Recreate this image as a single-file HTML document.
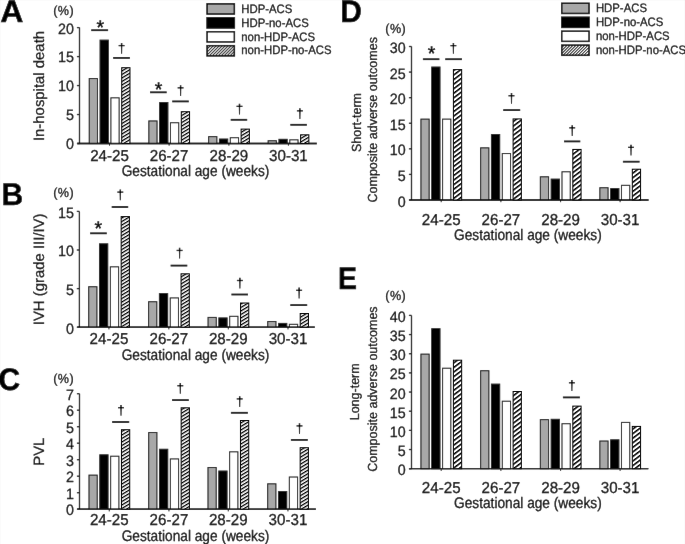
<!DOCTYPE html>
<html><head><meta charset="utf-8"><style>
html,body{margin:0;padding:0;background:#fff;}
svg{display:block;filter:grayscale(1);}
text{font-family:"Liberation Sans", sans-serif;fill:#000;stroke:#000;stroke-width:0.25px;text-rendering:geometricPrecision;}
</style></head><body>
<svg width="685" height="544" viewBox="0 0 685 544">
<rect width="685" height="544" fill="#fff"/>
<defs>
<filter id="soft" x="0" y="0" width="1" height="1" filterUnits="objectBoundingBox"><feConvolveMatrix order="3" kernelMatrix="0.00163 0.03713 0.00163 0.03713 0.84497 0.03713 0.00163 0.03713 0.00163" divisor="1" edgeMode="duplicate" preserveAlpha="true"/></filter>
<pattern id="hatch" patternUnits="userSpaceOnUse" width="12" height="3.0" patternTransform="rotate(-31)">
<rect x="0" y="0" width="12" height="3.0" fill="#fff"/><rect x="0" y="0" width="12" height="1.3" fill="#000"/></pattern>
<pattern id="hatch2" patternUnits="userSpaceOnUse" width="12" height="3.65" patternTransform="rotate(-37)">
<rect x="0" y="0" width="12" height="3.65" fill="#fff"/><rect x="0" y="0" width="12" height="1.55" fill="#000"/></pattern>
<pattern id="lhatch" patternUnits="userSpaceOnUse" width="8" height="2.1" patternTransform="rotate(-45)">
<rect x="0" y="0" width="8" height="2.1" fill="#fff"/><rect x="0" y="0" width="8" height="0.95" fill="#000"/></pattern>
</defs>
<g filter="url(#soft)">
<rect width="685" height="544" fill="#fff"/>
<path d="M79.5 27.6V143.5M77.3 143.5H316.8" stroke="#111" stroke-width="1.3" fill="none"/>
<path d="M76.9 143.5H79.5" stroke="#111" stroke-width="1.3"/>
<text transform="translate(73.9 149.4) scale(1 1.05)" text-anchor="end" font-size="14.3">0</text>
<path d="M76.9 114.53H79.5" stroke="#111" stroke-width="1.3"/>
<text transform="translate(73.9 120.43) scale(1 1.05)" text-anchor="end" font-size="14.3">5</text>
<path d="M76.9 85.55H79.5" stroke="#111" stroke-width="1.3"/>
<text transform="translate(73.9 91.45) scale(1 1.05)" text-anchor="end" font-size="14.3">10</text>
<path d="M76.9 56.58H79.5" stroke="#111" stroke-width="1.3"/>
<text transform="translate(73.9 62.48) scale(1 1.05)" text-anchor="end" font-size="14.3">15</text>
<path d="M76.9 27.6H79.5" stroke="#111" stroke-width="1.3"/>
<text transform="translate(73.9 33.5) scale(1 1.05)" text-anchor="end" font-size="14.3">20</text>
<rect x="89.23" y="78.53" width="8.25" height="64.97" fill="#a8a8a8" stroke="#111" stroke-width="1.05"/>
<rect x="100.06" y="40.12" width="8.25" height="103.38" fill="#000" stroke="#111" stroke-width="1.05"/>
<rect x="110.89" y="97.83" width="8.25" height="45.68" fill="#fff" stroke="#111" stroke-width="1.05"/>
<path d="M109.5 143.5V145.7" stroke="#111" stroke-width="1"/>
<rect x="148.82" y="120.93" width="8.25" height="22.57" fill="#a8a8a8" stroke="#111" stroke-width="1.05"/>
<rect x="159.66" y="102.53" width="8.25" height="40.98" fill="#000" stroke="#111" stroke-width="1.05"/>
<rect x="170.48" y="122.73" width="8.25" height="20.77" fill="#fff" stroke="#111" stroke-width="1.05"/>
<path d="M169.1 143.5V145.7" stroke="#111" stroke-width="1"/>
<rect x="208.62" y="136.62" width="8.25" height="6.88" fill="#a8a8a8" stroke="#111" stroke-width="1.05"/>
<rect x="219.46" y="139.03" width="8.25" height="4.47" fill="#000" stroke="#111" stroke-width="1.05"/>
<rect x="230.28" y="137.72" width="8.25" height="5.78" fill="#fff" stroke="#111" stroke-width="1.05"/>
<path d="M228.9 143.5V145.7" stroke="#111" stroke-width="1"/>
<rect x="268.12" y="140.72" width="8.25" height="2.78" fill="#a8a8a8" stroke="#111" stroke-width="1.05"/>
<rect x="278.95" y="139.33" width="8.25" height="4.17" fill="#000" stroke="#111" stroke-width="1.05"/>
<rect x="289.78" y="139.83" width="8.25" height="3.67" fill="#fff" stroke="#111" stroke-width="1.05"/>
<path d="M288.4 143.5V145.7" stroke="#111" stroke-width="1"/>
<path d="M77.3 143.5H316.8" stroke="#111" stroke-width="1.3" fill="none"/>
<path d="M91.2 30.2H108.1" stroke="#000" stroke-width="1.8"/>
<text transform="translate(96.6 33.89)" font-size="19.5" style="stroke-width:0.45px">*</text>
<path d="M113.1 57.9H129.9" stroke="#000" stroke-width="1.8"/>
<path d="M120.85 42.9L122.35 42.9L122.1 53.7L121.1 53.7Z" fill="#000"/>
<path d="M118.6 45.6H124.6" stroke="#000" stroke-width="1.3"/>
<path d="M150 92.3H166.7" stroke="#000" stroke-width="1.8"/>
<text transform="translate(154.8 95.69)" font-size="19.5" style="stroke-width:0.45px">*</text>
<path d="M172.2 101.4H188.8" stroke="#000" stroke-width="1.8"/>
<path d="M179.85 85.15L181.35 85.15L181.1 95.95L180.1 95.95Z" fill="#000"/>
<path d="M177.6 87.85H183.6" stroke="#000" stroke-width="1.3"/>
<path d="M230.7 119.8H247.2" stroke="#000" stroke-width="1.8"/>
<path d="M238.75 103.65L240.25 103.65L240 114.45L239 114.45Z" fill="#000"/>
<path d="M236.5 106.35H242.5" stroke="#000" stroke-width="1.3"/>
<path d="M290.3 124.8H306.9" stroke="#000" stroke-width="1.8"/>
<path d="M299.15 108.15L300.65 108.15L300.4 118.95L299.4 118.95Z" fill="#000"/>
<path d="M296.9 110.85H302.9" stroke="#000" stroke-width="1.3"/>
<text transform="translate(109.5 160.5) scale(1 1.05)" text-anchor="middle" font-size="15.15">24-25</text>
<text transform="translate(169.1 160.5) scale(1 1.05)" text-anchor="middle" font-size="15.15">26-27</text>
<text transform="translate(228.9 160.5) scale(1 1.05)" text-anchor="middle" font-size="15.15">28-29</text>
<text transform="translate(288.4 160.5) scale(1 1.05)" text-anchor="middle" font-size="15.15">30-31</text>
<text transform="translate(195.5 175.7) scale(1 1.12)" text-anchor="middle" font-size="13.7">Gestational age (weeks)</text>
<text transform="translate(44.2 86) rotate(-90)" text-anchor="middle" font-size="14.9">In-hospital death</text>
<text transform="translate(74 14.6) scale(1 1.04)" text-anchor="end" font-size="12.6" letter-spacing="0.4">(%)</text>
<text transform="translate(0.2 21.9) scale(1.07 1.04)" font-weight="bold" font-size="30" style="stroke-width:0.45px">A</text>
<path d="M79.4 211.4V327.2M77.3 327.2H314.8" stroke="#111" stroke-width="1.3" fill="none"/>
<path d="M76.8 327.2H79.4" stroke="#111" stroke-width="1.3"/>
<text transform="translate(73.9 333.6) scale(1 1.05)" text-anchor="end" font-size="14.3">0</text>
<path d="M76.8 288.6H79.4" stroke="#111" stroke-width="1.3"/>
<text transform="translate(73.9 295) scale(1 1.05)" text-anchor="end" font-size="14.3">5</text>
<path d="M76.8 250H79.4" stroke="#111" stroke-width="1.3"/>
<text transform="translate(73.9 256.4) scale(1 1.05)" text-anchor="end" font-size="14.3">10</text>
<path d="M76.8 211.4H79.4" stroke="#111" stroke-width="1.3"/>
<text transform="translate(73.9 217.8) scale(1 1.05)" text-anchor="end" font-size="14.3">15</text>
<rect x="88.68" y="286.72" width="8.25" height="40.48" fill="#a8a8a8" stroke="#111" stroke-width="1.05"/>
<rect x="99.51" y="243.83" width="8.25" height="83.37" fill="#000" stroke="#111" stroke-width="1.05"/>
<rect x="110.34" y="266.82" width="8.25" height="60.37" fill="#fff" stroke="#111" stroke-width="1.05"/>
<path d="M108.95 327.2V329.4" stroke="#111" stroke-width="1"/>
<rect x="148.57" y="301.72" width="8.25" height="25.48" fill="#a8a8a8" stroke="#111" stroke-width="1.05"/>
<rect x="159.41" y="293.62" width="8.25" height="33.57" fill="#000" stroke="#111" stroke-width="1.05"/>
<rect x="170.23" y="297.92" width="8.25" height="29.28" fill="#fff" stroke="#111" stroke-width="1.05"/>
<path d="M168.85 327.2V329.4" stroke="#111" stroke-width="1"/>
<rect x="208.03" y="317.42" width="8.25" height="9.78" fill="#a8a8a8" stroke="#111" stroke-width="1.05"/>
<rect x="218.86" y="317.92" width="8.25" height="9.28" fill="#000" stroke="#111" stroke-width="1.05"/>
<rect x="229.69" y="316.32" width="8.25" height="10.87" fill="#fff" stroke="#111" stroke-width="1.05"/>
<path d="M228.3 327.2V329.4" stroke="#111" stroke-width="1"/>
<rect x="267.72" y="321.52" width="8.25" height="5.67" fill="#a8a8a8" stroke="#111" stroke-width="1.05"/>
<rect x="278.55" y="323.42" width="8.25" height="3.78" fill="#000" stroke="#111" stroke-width="1.05"/>
<rect x="289.38" y="324.32" width="8.25" height="2.87" fill="#fff" stroke="#111" stroke-width="1.05"/>
<path d="M288 327.2V329.4" stroke="#111" stroke-width="1"/>
<path d="M77.3 327.2H314.8" stroke="#111" stroke-width="1.3" fill="none"/>
<path d="M90.1 233.3H106.8" stroke="#000" stroke-width="1.8"/>
<text transform="translate(94.55 234.99)" font-size="19.5" style="stroke-width:0.45px">*</text>
<path d="M111.7 207H128.2" stroke="#000" stroke-width="1.8"/>
<path d="M119.55 189.4L121.05 189.4L120.8 200.2L119.8 200.2Z" fill="#000"/>
<path d="M117.3 192.1H123.3" stroke="#000" stroke-width="1.3"/>
<path d="M170.6 265.6H187.3" stroke="#000" stroke-width="1.8"/>
<path d="M178.85 247.75L180.35 247.75L180.1 258.55L179.1 258.55Z" fill="#000"/>
<path d="M176.6 250.45H182.6" stroke="#000" stroke-width="1.3"/>
<path d="M231.4 294.5H248" stroke="#000" stroke-width="1.8"/>
<path d="M239.15 277.8L240.65 277.8L240.4 288.6L239.4 288.6Z" fill="#000"/>
<path d="M236.9 280.5H242.9" stroke="#000" stroke-width="1.3"/>
<path d="M290.3 305.1H307.2" stroke="#000" stroke-width="1.8"/>
<path d="M298.35 287.6L299.85 287.6L299.6 298.4L298.6 298.4Z" fill="#000"/>
<path d="M296.1 290.3H302.1" stroke="#000" stroke-width="1.3"/>
<text transform="translate(108.95 344.2) scale(1 1.05)" text-anchor="middle" font-size="15.15">24-25</text>
<text transform="translate(168.85 344.2) scale(1 1.05)" text-anchor="middle" font-size="15.15">26-27</text>
<text transform="translate(228.3 344.2) scale(1 1.05)" text-anchor="middle" font-size="15.15">28-29</text>
<text transform="translate(288 344.2) scale(1 1.05)" text-anchor="middle" font-size="15.15">30-31</text>
<text transform="translate(195.5 359.6) scale(1 1.12)" text-anchor="middle" font-size="13.7">Gestational age (weeks)</text>
<text transform="translate(44.2 269.4) rotate(-90)" text-anchor="middle" font-size="14.9">IVH (grade III/IV)</text>
<text transform="translate(74 196.6) scale(1 1.04)" text-anchor="end" font-size="12.6" letter-spacing="0.4">(%)</text>
<text transform="translate(1.4 204.7) scale(1 1.04)" font-weight="bold" font-size="30" style="stroke-width:0.45px">B</text>
<path d="M79.5 393.7V509.2M77.2 509.2H315.9" stroke="#111" stroke-width="1.3" fill="none"/>
<path d="M76.9 509.2H79.5" stroke="#111" stroke-width="1.3"/>
<text transform="translate(73.9 515.3) scale(1 1.05)" text-anchor="end" font-size="14.3">0</text>
<path d="M76.9 492.7H79.5" stroke="#111" stroke-width="1.3"/>
<text transform="translate(73.9 498.8) scale(1 1.05)" text-anchor="end" font-size="14.3">1</text>
<path d="M76.9 476.2H79.5" stroke="#111" stroke-width="1.3"/>
<text transform="translate(73.9 482.3) scale(1 1.05)" text-anchor="end" font-size="14.3">2</text>
<path d="M76.9 459.7H79.5" stroke="#111" stroke-width="1.3"/>
<text transform="translate(73.9 465.8) scale(1 1.05)" text-anchor="end" font-size="14.3">3</text>
<path d="M76.9 443.2H79.5" stroke="#111" stroke-width="1.3"/>
<text transform="translate(73.9 449.3) scale(1 1.05)" text-anchor="end" font-size="14.3">4</text>
<path d="M76.9 426.7H79.5" stroke="#111" stroke-width="1.3"/>
<text transform="translate(73.9 432.8) scale(1 1.05)" text-anchor="end" font-size="14.3">5</text>
<path d="M76.9 410.2H79.5" stroke="#111" stroke-width="1.3"/>
<text transform="translate(73.9 416.3) scale(1 1.05)" text-anchor="end" font-size="14.3">6</text>
<path d="M76.9 393.7H79.5" stroke="#111" stroke-width="1.3"/>
<text transform="translate(73.9 399.8) scale(1 1.05)" text-anchor="end" font-size="14.3">7</text>
<rect x="88.98" y="475.12" width="8.25" height="34.07" fill="#a8a8a8" stroke="#111" stroke-width="1.05"/>
<rect x="99.81" y="454.82" width="8.25" height="54.37" fill="#000" stroke="#111" stroke-width="1.05"/>
<rect x="110.64" y="456.22" width="8.25" height="52.98" fill="#fff" stroke="#111" stroke-width="1.05"/>
<path d="M109.25 509.2V511.4" stroke="#111" stroke-width="1"/>
<rect x="148.67" y="432.52" width="8.25" height="76.67" fill="#a8a8a8" stroke="#111" stroke-width="1.05"/>
<rect x="159.5" y="449.27" width="8.25" height="59.92" fill="#000" stroke="#111" stroke-width="1.05"/>
<rect x="170.33" y="458.92" width="8.25" height="50.28" fill="#fff" stroke="#111" stroke-width="1.05"/>
<path d="M168.95 509.2V511.4" stroke="#111" stroke-width="1"/>
<rect x="207.97" y="467.52" width="8.25" height="41.67" fill="#a8a8a8" stroke="#111" stroke-width="1.05"/>
<rect x="218.81" y="471.02" width="8.25" height="38.17" fill="#000" stroke="#111" stroke-width="1.05"/>
<rect x="229.63" y="451.82" width="8.25" height="57.37" fill="#fff" stroke="#111" stroke-width="1.05"/>
<path d="M228.25 509.2V511.4" stroke="#111" stroke-width="1"/>
<rect x="267.67" y="483.82" width="8.25" height="25.37" fill="#a8a8a8" stroke="#111" stroke-width="1.05"/>
<rect x="278.5" y="491.52" width="8.25" height="17.67" fill="#000" stroke="#111" stroke-width="1.05"/>
<rect x="289.33" y="477.02" width="8.25" height="32.17" fill="#fff" stroke="#111" stroke-width="1.05"/>
<path d="M287.95 509.2V511.4" stroke="#111" stroke-width="1"/>
<path d="M77.2 509.2H315.9" stroke="#111" stroke-width="1.3" fill="none"/>
<path d="M112.1 422H129.2" stroke="#000" stroke-width="1.8"/>
<path d="M120.25 405L121.75 405L121.5 415.8L120.5 415.8Z" fill="#000"/>
<path d="M118 407.7H124" stroke="#000" stroke-width="1.3"/>
<path d="M172 400.1H188.8" stroke="#000" stroke-width="1.8"/>
<path d="M179.55 383.05L181.05 383.05L180.8 393.85L179.8 393.85Z" fill="#000"/>
<path d="M177.3 385.75H183.3" stroke="#000" stroke-width="1.3"/>
<path d="M230.9 412.8H247.9" stroke="#000" stroke-width="1.8"/>
<path d="M238.95 396.2L240.45 396.2L240.2 407L239.2 407Z" fill="#000"/>
<path d="M236.7 398.9H242.7" stroke="#000" stroke-width="1.3"/>
<path d="M290.9 439.9H307.8" stroke="#000" stroke-width="1.8"/>
<path d="M298.75 423.2L300.25 423.2L300 434L299 434Z" fill="#000"/>
<path d="M296.5 425.9H302.5" stroke="#000" stroke-width="1.3"/>
<text transform="translate(109.25 525.2) scale(1 1.05)" text-anchor="middle" font-size="15.15">24-25</text>
<text transform="translate(168.95 525.2) scale(1 1.05)" text-anchor="middle" font-size="15.15">26-27</text>
<text transform="translate(228.25 525.2) scale(1 1.05)" text-anchor="middle" font-size="15.15">28-29</text>
<text transform="translate(287.95 525.2) scale(1 1.05)" text-anchor="middle" font-size="15.15">30-31</text>
<text transform="translate(195.5 540.5) scale(1 1.12)" text-anchor="middle" font-size="13.7">Gestational age (weeks)</text>
<text transform="translate(44.2 451.7) rotate(-90)" text-anchor="middle" font-size="14.9">PVL</text>
<text transform="translate(74 382.6) scale(1 1.04)" text-anchor="end" font-size="12.6" letter-spacing="0.4">(%)</text>
<text transform="translate(-1.6 390.2) scale(1 1.04)" font-weight="bold" font-size="30" style="stroke-width:0.45px">C</text>
<path d="M411.5 46.5V200M409 200H648.5" stroke="#111" stroke-width="1.3" fill="none"/>
<path d="M408.9 200H411.5" stroke="#111" stroke-width="1.3"/>
<text transform="translate(405.6 206.6) scale(1 1.05)" text-anchor="end" font-size="14.3">0</text>
<path d="M408.9 174.42H411.5" stroke="#111" stroke-width="1.3"/>
<text transform="translate(405.6 181.02) scale(1 1.05)" text-anchor="end" font-size="14.3">5</text>
<path d="M408.9 148.83H411.5" stroke="#111" stroke-width="1.3"/>
<text transform="translate(405.6 155.43) scale(1 1.05)" text-anchor="end" font-size="14.3">10</text>
<path d="M408.9 123.25H411.5" stroke="#111" stroke-width="1.3"/>
<text transform="translate(405.6 129.85) scale(1 1.05)" text-anchor="end" font-size="14.3">15</text>
<path d="M408.9 97.67H411.5" stroke="#111" stroke-width="1.3"/>
<text transform="translate(405.6 104.27) scale(1 1.05)" text-anchor="end" font-size="14.3">20</text>
<path d="M408.9 72.08H411.5" stroke="#111" stroke-width="1.3"/>
<text transform="translate(405.6 78.68) scale(1 1.05)" text-anchor="end" font-size="14.3">25</text>
<path d="M408.9 46.5H411.5" stroke="#111" stroke-width="1.3"/>
<text transform="translate(405.6 53.1) scale(1 1.05)" text-anchor="end" font-size="14.3">30</text>
<rect x="420.92" y="119.12" width="8.25" height="80.88" fill="#a8a8a8" stroke="#111" stroke-width="1.05"/>
<rect x="431.75" y="67.03" width="8.25" height="132.97" fill="#000" stroke="#111" stroke-width="1.05"/>
<rect x="442.58" y="119.12" width="8.25" height="80.88" fill="#fff" stroke="#111" stroke-width="1.05"/>
<path d="M441.2 200V202.2" stroke="#111" stroke-width="1"/>
<rect x="480.62" y="147.83" width="8.25" height="52.17" fill="#a8a8a8" stroke="#111" stroke-width="1.05"/>
<rect x="491.45" y="134.53" width="8.25" height="65.47" fill="#000" stroke="#111" stroke-width="1.05"/>
<rect x="502.28" y="153.53" width="8.25" height="46.48" fill="#fff" stroke="#111" stroke-width="1.05"/>
<path d="M500.9 200V202.2" stroke="#111" stroke-width="1"/>
<rect x="540.33" y="176.78" width="8.25" height="23.23" fill="#a8a8a8" stroke="#111" stroke-width="1.05"/>
<rect x="551.16" y="179.12" width="8.25" height="20.88" fill="#000" stroke="#111" stroke-width="1.05"/>
<rect x="561.99" y="171.78" width="8.25" height="28.23" fill="#fff" stroke="#111" stroke-width="1.05"/>
<path d="M560.6 200V202.2" stroke="#111" stroke-width="1"/>
<rect x="599.83" y="187.72" width="8.25" height="12.28" fill="#a8a8a8" stroke="#111" stroke-width="1.05"/>
<rect x="610.66" y="188.62" width="8.25" height="11.38" fill="#000" stroke="#111" stroke-width="1.05"/>
<rect x="621.49" y="185.33" width="8.25" height="14.67" fill="#fff" stroke="#111" stroke-width="1.05"/>
<path d="M620.1 200V202.2" stroke="#111" stroke-width="1"/>
<path d="M409 200H648.5" stroke="#111" stroke-width="1.3" fill="none"/>
<path d="M422.9 59.2H439.4" stroke="#000" stroke-width="1.8"/>
<text transform="translate(427.7 59.74)" font-size="19.5" style="stroke-width:0.45px">*</text>
<path d="M445.2 59.2H462" stroke="#000" stroke-width="1.8"/>
<path d="M452.65 42.95L454.15 42.95L453.9 53.75L452.9 53.75Z" fill="#000"/>
<path d="M450.4 45.65H456.4" stroke="#000" stroke-width="1.3"/>
<path d="M503.2 110.1H520.2" stroke="#000" stroke-width="1.8"/>
<path d="M510.75 93.05L512.25 93.05L512 103.85L511 103.85Z" fill="#000"/>
<path d="M508.5 95.75H514.5" stroke="#000" stroke-width="1.3"/>
<path d="M564 141.4H580.3" stroke="#000" stroke-width="1.8"/>
<path d="M571.45 125.15L572.95 125.15L572.7 135.95L571.7 135.95Z" fill="#000"/>
<path d="M569.2 127.85H575.2" stroke="#000" stroke-width="1.3"/>
<path d="M622.9 161.7H639.6" stroke="#000" stroke-width="1.8"/>
<path d="M630.25 144.65L631.75 144.65L631.5 155.45L630.5 155.45Z" fill="#000"/>
<path d="M628 147.35H634" stroke="#000" stroke-width="1.3"/>
<text transform="translate(441.2 224.5) scale(1 1.05)" text-anchor="middle" font-size="15.15">24-25</text>
<text transform="translate(500.9 224.5) scale(1 1.05)" text-anchor="middle" font-size="15.15">26-27</text>
<text transform="translate(560.6 224.5) scale(1 1.05)" text-anchor="middle" font-size="15.15">28-29</text>
<text transform="translate(620.1 224.5) scale(1 1.05)" text-anchor="middle" font-size="15.15">30-31</text>
<text transform="translate(527.9 239.6) scale(1 1.12)" text-anchor="middle" font-size="13.7">Gestational age (weeks)</text>
<text transform="translate(361 122.5) rotate(-90) scale(1 1.05)" text-anchor="middle" font-size="12.5">Short-term</text>
<text transform="translate(377 119.8) rotate(-90) scale(1 1.05)" text-anchor="middle" font-size="12.5">Composite adverse outcomes</text>
<text transform="translate(406.1 32.6) scale(1 1.04)" text-anchor="end" font-size="12.6" letter-spacing="0.4">(%)</text>
<text transform="translate(340.2 21.9) scale(1 1.04)" font-weight="bold" font-size="30" style="stroke-width:0.45px">D</text>
<path d="M411.5 315.4V468.7M409 468.7H648.3" stroke="#111" stroke-width="1.3" fill="none"/>
<path d="M408.9 468.7H411.5" stroke="#111" stroke-width="1.3"/>
<text transform="translate(405.6 475.2) scale(1 1.05)" text-anchor="end" font-size="14.3">0</text>
<path d="M408.9 449.54H411.5" stroke="#111" stroke-width="1.3"/>
<text transform="translate(405.6 456.04) scale(1 1.05)" text-anchor="end" font-size="14.3">5</text>
<path d="M408.9 430.38H411.5" stroke="#111" stroke-width="1.3"/>
<text transform="translate(405.6 436.88) scale(1 1.05)" text-anchor="end" font-size="14.3">10</text>
<path d="M408.9 411.21H411.5" stroke="#111" stroke-width="1.3"/>
<text transform="translate(405.6 417.71) scale(1 1.05)" text-anchor="end" font-size="14.3">15</text>
<path d="M408.9 392.05H411.5" stroke="#111" stroke-width="1.3"/>
<text transform="translate(405.6 398.55) scale(1 1.05)" text-anchor="end" font-size="14.3">20</text>
<path d="M408.9 372.89H411.5" stroke="#111" stroke-width="1.3"/>
<text transform="translate(405.6 379.39) scale(1 1.05)" text-anchor="end" font-size="14.3">25</text>
<path d="M408.9 353.73H411.5" stroke="#111" stroke-width="1.3"/>
<text transform="translate(405.6 360.23) scale(1 1.05)" text-anchor="end" font-size="14.3">30</text>
<path d="M408.9 334.56H411.5" stroke="#111" stroke-width="1.3"/>
<text transform="translate(405.6 341.06) scale(1 1.05)" text-anchor="end" font-size="14.3">35</text>
<path d="M408.9 315.4H411.5" stroke="#111" stroke-width="1.3"/>
<text transform="translate(405.6 321.9) scale(1 1.05)" text-anchor="end" font-size="14.3">40</text>
<rect x="420.92" y="354.12" width="8.25" height="114.57" fill="#a8a8a8" stroke="#111" stroke-width="1.05"/>
<rect x="431.75" y="328.72" width="8.25" height="139.97" fill="#000" stroke="#111" stroke-width="1.05"/>
<rect x="442.58" y="368.22" width="8.25" height="100.47" fill="#fff" stroke="#111" stroke-width="1.05"/>
<path d="M441.2 468.7V470.9" stroke="#111" stroke-width="1"/>
<rect x="480.62" y="370.72" width="8.25" height="97.97" fill="#a8a8a8" stroke="#111" stroke-width="1.05"/>
<rect x="491.45" y="384.12" width="8.25" height="84.57" fill="#000" stroke="#111" stroke-width="1.05"/>
<rect x="502.28" y="401.22" width="8.25" height="67.47" fill="#fff" stroke="#111" stroke-width="1.05"/>
<path d="M500.9 468.7V470.9" stroke="#111" stroke-width="1"/>
<rect x="540.33" y="419.62" width="8.25" height="49.07" fill="#a8a8a8" stroke="#111" stroke-width="1.05"/>
<rect x="551.16" y="419.32" width="8.25" height="49.37" fill="#000" stroke="#111" stroke-width="1.05"/>
<rect x="561.99" y="423.72" width="8.25" height="44.98" fill="#fff" stroke="#111" stroke-width="1.05"/>
<path d="M560.6 468.7V470.9" stroke="#111" stroke-width="1"/>
<rect x="599.83" y="441.02" width="8.25" height="27.67" fill="#a8a8a8" stroke="#111" stroke-width="1.05"/>
<rect x="610.66" y="439.82" width="8.25" height="28.87" fill="#000" stroke="#111" stroke-width="1.05"/>
<rect x="621.49" y="422.42" width="8.25" height="46.28" fill="#fff" stroke="#111" stroke-width="1.05"/>
<path d="M620.1 468.7V470.9" stroke="#111" stroke-width="1"/>
<path d="M409 468.7H648.3" stroke="#111" stroke-width="1.3" fill="none"/>
<path d="M562.9 397.4H579.9" stroke="#000" stroke-width="1.8"/>
<path d="M571.15 380.1L572.65 380.1L572.4 390.9L571.4 390.9Z" fill="#000"/>
<path d="M568.9 382.8H574.9" stroke="#000" stroke-width="1.3"/>
<text transform="translate(441.2 492.6) scale(1 1.05)" text-anchor="middle" font-size="15.15">24-25</text>
<text transform="translate(500.9 492.6) scale(1 1.05)" text-anchor="middle" font-size="15.15">26-27</text>
<text transform="translate(560.6 492.6) scale(1 1.05)" text-anchor="middle" font-size="15.15">28-29</text>
<text transform="translate(620.1 492.6) scale(1 1.05)" text-anchor="middle" font-size="15.15">30-31</text>
<text transform="translate(527.9 507.8) scale(1 1.12)" text-anchor="middle" font-size="13.7">Gestational age (weeks)</text>
<text transform="translate(358.8 391.8) rotate(-90) scale(1 1.05)" text-anchor="middle" font-size="12.5">Long-term</text>
<text transform="translate(377 389.1) rotate(-90) scale(1 1.05)" text-anchor="middle" font-size="12.5">Composite adverse outcomes</text>
<text transform="translate(406.1 299.8) scale(1 1.04)" text-anchor="end" font-size="12.6" letter-spacing="0.4">(%)</text>
<text transform="translate(337.9 288.8) scale(0.95 1.04)" font-weight="bold" font-size="30" style="stroke-width:0.45px">E</text>
<rect x="207.05" y="3.85" width="27.3" height="10.2" fill="#a8a8a8" stroke="#000" stroke-width="1.5"/>
<text transform="translate(241.3 12.7) scale(1 1.08)" font-size="11.35">HDP-ACS</text>
<rect x="207.05" y="17.8" width="27.3" height="10.2" fill="#000" stroke="#000" stroke-width="1.5"/>
<text transform="translate(241.3 26.6) scale(1 1.08)" font-size="11.35">HDP-no-ACS</text>
<rect x="207.05" y="31.75" width="27.3" height="10.2" fill="#fff" stroke="#000" stroke-width="1.5"/>
<text transform="translate(241.3 40.5) scale(1 1.08)" font-size="11.35">non-HDP-ACS</text>
<rect x="207.05" y="45.7" width="27.3" height="10.2" fill="url(#lhatch)" stroke="#000" stroke-width="1.5"/>
<text transform="translate(241.3 54.4) scale(1 1.08)" font-size="11.35">non-HDP-no-ACS</text>
<rect x="561.75" y="3.25" width="27.3" height="10.2" fill="#a8a8a8" stroke="#000" stroke-width="1.5"/>
<text transform="translate(595.9 12.2) scale(1 1.08)" font-size="11.35">HDP-ACS</text>
<rect x="561.75" y="17.2" width="27.3" height="10.2" fill="#000" stroke="#000" stroke-width="1.5"/>
<text transform="translate(595.9 26.1) scale(1 1.08)" font-size="11.35">HDP-no-ACS</text>
<rect x="561.75" y="31.15" width="27.3" height="10.2" fill="#fff" stroke="#000" stroke-width="1.5"/>
<text transform="translate(595.9 40) scale(1 1.08)" font-size="11.35">non-HDP-ACS</text>
<rect x="561.75" y="45.1" width="27.3" height="10.2" fill="url(#lhatch)" stroke="#000" stroke-width="1.5"/>
<text transform="translate(595.9 53.9) scale(1 1.08)" font-size="11.35">non-HDP-no-ACS</text>
</g>
<rect x="121.72" y="67.73" width="8.25" height="75.77" fill="url(#hatch)" stroke="#111" stroke-width="1.05"/>
<rect x="181.31" y="111.73" width="8.25" height="31.77" fill="url(#hatch)" stroke="#111" stroke-width="1.05"/>
<rect x="241.12" y="129.12" width="8.25" height="14.38" fill="url(#hatch)" stroke="#111" stroke-width="1.05"/>
<rect x="300.61" y="134.83" width="8.25" height="8.67" fill="url(#hatch)" stroke="#111" stroke-width="1.05"/>
<rect x="121.17" y="216.62" width="8.25" height="110.57" fill="url(#hatch)" stroke="#111" stroke-width="1.05"/>
<rect x="181.06" y="273.82" width="8.25" height="53.37" fill="url(#hatch)" stroke="#111" stroke-width="1.05"/>
<rect x="240.52" y="303.02" width="8.25" height="24.17" fill="url(#hatch)" stroke="#111" stroke-width="1.05"/>
<rect x="300.21" y="313.52" width="8.25" height="13.67" fill="url(#hatch)" stroke="#111" stroke-width="1.05"/>
<rect x="121.47" y="429.72" width="8.25" height="79.47" fill="url(#hatch)" stroke="#111" stroke-width="1.05"/>
<rect x="181.16" y="407.82" width="8.25" height="101.37" fill="url(#hatch)" stroke="#111" stroke-width="1.05"/>
<rect x="240.47" y="420.52" width="8.25" height="88.67" fill="url(#hatch)" stroke="#111" stroke-width="1.05"/>
<rect x="300.16" y="447.72" width="8.25" height="61.48" fill="url(#hatch)" stroke="#111" stroke-width="1.05"/>
<rect x="453.41" y="69.62" width="8.25" height="130.38" fill="url(#hatch2)" stroke="#111" stroke-width="1.05"/>
<rect x="513.11" y="118.93" width="8.25" height="81.07" fill="url(#hatch2)" stroke="#111" stroke-width="1.05"/>
<rect x="572.82" y="149.43" width="8.25" height="50.57" fill="url(#hatch2)" stroke="#111" stroke-width="1.05"/>
<rect x="632.32" y="169.22" width="8.25" height="30.78" fill="url(#hatch2)" stroke="#111" stroke-width="1.05"/>
<rect x="453.41" y="360.22" width="8.25" height="108.47" fill="url(#hatch2)" stroke="#111" stroke-width="1.05"/>
<rect x="513.11" y="391.52" width="8.25" height="77.17" fill="url(#hatch2)" stroke="#111" stroke-width="1.05"/>
<rect x="572.82" y="406.12" width="8.25" height="62.57" fill="url(#hatch2)" stroke="#111" stroke-width="1.05"/>
<rect x="632.32" y="426.42" width="8.25" height="42.28" fill="url(#hatch2)" stroke="#111" stroke-width="1.05"/>
</svg>
</body></html>
